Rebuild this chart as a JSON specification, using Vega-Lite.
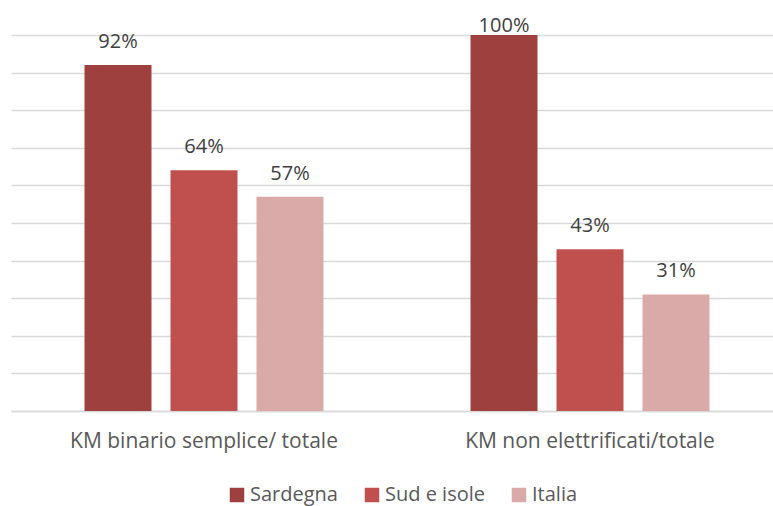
{
  "$schema": "https://vega.github.io/schema/vega-lite/v6.json",
  "width": 772,
  "height": 376,
  "autosize": {"type": "none"},
  "padding": {"left": 11, "top": 35, "right": 0, "bottom": 95},
  "background": "white",
  "config": {
    "font": "Open Sans",
    "view": {"stroke": null}
  },
  "data": {
    "values": [
      {"categoria": "KM binario semplice/ totale", "area": "Sardegna", "valore": 0.92},
      {"categoria": "KM binario semplice/ totale", "area": "Sud e isole", "valore": 0.64},
      {"categoria": "KM binario semplice/ totale", "area": "Italia", "valore": 0.57},
      {"categoria": "KM non elettrificati/totale", "area": "Sardegna", "valore": 1.0},
      {"categoria": "KM non elettrificati/totale", "area": "Sud e isole", "valore": 0.43},
      {"categoria": "KM non elettrificati/totale", "area": "Italia", "valore": 0.31}
    ]
  },
  "encoding": {
    "x": {
      "field": "categoria",
      "type": "nominal",
      "sort": null,
      "scale": {"paddingInner": 0, "paddingOuter": 0},
      "axis": {
        "title": null,
        "labelAngle": 0,
        "labelFontSize": 21,
        "labelLimit": 500,
        "labelColor": "#595959",
        "labelPadding": 19,
        "ticks": false,
        "domainColor": "#d9d9d9",
        "domainWidth": 1.5
      }
    },
    "xOffset": {
      "field": "area",
      "type": "nominal",
      "sort": ["Sardegna", "Sud e isole", "Italia"],
      "scale": {"paddingInner": 0.221, "paddingOuter": 0.855}
    },
    "y": {
      "field": "valore",
      "type": "quantitative",
      "scale": {"domain": [0, 1], "nice": false},
      "axis": {
        "title": null,
        "labels": false,
        "ticks": false,
        "domain": false,
        "values": [0, 0.1, 0.2, 0.3, 0.4, 0.5, 0.6, 0.7, 0.8, 0.9, 1.0],
        "labelOverlap": false,
        "gridColor": "#d9d9d9",
        "gridWidth": 1.5
      }
    }
  },
  "layer": [
    {
      "mark": {"type": "bar"},
      "encoding": {
        "color": {
          "field": "area",
          "type": "nominal",
          "sort": ["Sardegna", "Sud e isole", "Italia"],
          "scale": {
            "domain": ["Sardegna", "Sud e isole", "Italia"],
            "range": ["#9e403e", "#c0504d", "#daaaa9"]
          },
          "legend": {
            "title": null,
            "orient": "none",
            "legendX": 216,
            "legendY": 450,
            "direction": "horizontal",
            "symbolType": "square",
            "symbolSize": 210,
            "symbolStrokeWidth": 0,
            "labelFontSize": 20,
            "labelColor": "#595959",
            "labelOffset": 3,
            "columnPadding": 24
          }
        }
      }
    },
    {
      "transform": [{"filter": "datum.valore < 1"}],
      "mark": {"type": "text", "baseline": "alphabetic", "dy": -17, "fontSize": 20, "color": "#404040"},
      "encoding": {
        "text": {"field": "valore", "type": "quantitative", "format": ".0%"}
      }
    },
    {
      "transform": [{"filter": "datum.valore >= 1"}],
      "mark": {"type": "text", "baseline": "alphabetic", "dy": -3, "fontSize": 20, "color": "#404040"},
      "encoding": {
        "text": {"field": "valore", "type": "quantitative", "format": ".0%"}
      }
    }
  ]
}
